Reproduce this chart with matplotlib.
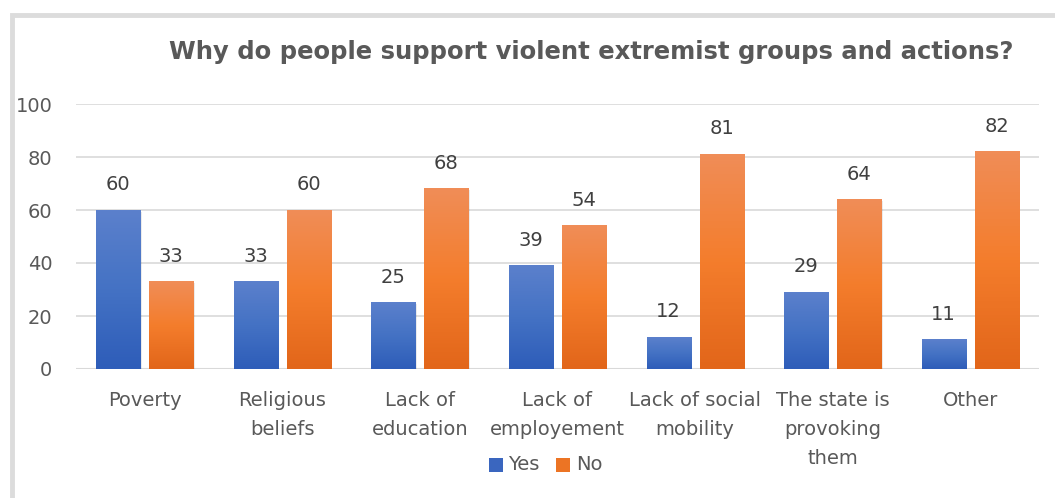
import matplotlib.pyplot as plt
import numpy as np
from matplotlib.colors import LinearSegmentedColormap
from matplotlib.patches import Rectangle

categories = ["Poverty", "Religious\nbeliefs", "Lack of\neducation", "Lack of\nemployement",
              "Lack of social\nmobility", "The state is\nprovoking\nthem", "Other"]
yes_vals = [60, 33, 25, 39, 12, 29, 11]
no_vals = [33, 60, 68, 54, 81, 64, 82]

grey = "#595959"
blue_cm = LinearSegmentedColormap.from_list("b", ["#2E5DB9", "#4472C4", "#5B80CC"])
orange_cm = LinearSegmentedColormap.from_list("o", ["#E2661A", "#F47D2C", "#F08D57"])

fig = plt.figure(figsize=(10.55, 4.98), dpi=100)
fig.patches.append(Rectangle((12 / 1055, -0.1), 1.2, 1 - 15 / 498 + 0.1, transform=fig.transFigure,
                             fill=False, edgecolor="#DCDCDC", linewidth=3.5, zorder=0))

ax = fig.add_axes([76 / 1055, 1 - 369 / 498, (1039 - 76) / 1055, (369 - 104) / 498])

x = np.arange(len(categories))
w = 0.32
off = 0.193
grad = np.linspace(0, 1, 64).reshape(-1, 1)

def gbar(xc, h, cmap):
    ax.imshow(grad, extent=[xc - w / 2, xc + w / 2, 0, h], origin="lower", aspect="auto",
              cmap=cmap, zorder=3)
    # soft shadow
    ax.add_patch(Rectangle((xc - w / 2 + 0.01, -0.6), w, h, facecolor="#000000", alpha=0.08,
                           linewidth=0, zorder=2.5))
    ax.text(xc, h + 6, str(h), ha="center", va="bottom", fontsize=14, color="#404040", zorder=4)

for i in x:
    gbar(i - off, yes_vals[i], blue_cm)
    gbar(i + off, no_vals[i], orange_cm)

ax.set_xlim(-0.5, len(categories) - 0.5)
ax.set_ylim(0, 100)
ax.set_yticks(range(0, 101, 20))
ax.grid(axis="y", color="#D9D9D9", linewidth=1.2, zorder=0)
ax.set_axisbelow(True)
for s in ax.spines.values():
    s.set_visible(False)
ax.axhline(0, color="#D9D9D9", linewidth=1.5, zorder=1)
ax.set_xticks(x)
ax.set_xticklabels(categories, linespacing=1.68)
ax.tick_params(axis="y", length=0, pad=17, labelsize=14, labelcolor=grey)
ax.tick_params(axis="x", length=0, pad=15.5, labelsize=14, labelcolor=grey)

fig.text(0.56, 1 - 52 / 498, "Why do people support violent extremist groups and actions?",
         ha="center", va="center", fontsize=17.5, fontweight="bold", color=grey)

# legend
lx = 489 / 1055
ly = 1 - 465 / 498
fig.patches.append(Rectangle((lx, ly - 7 / 498), 14 / 1055, 14 / 498, transform=fig.transFigure,
                             facecolor="#3A66BF", edgecolor="none"))
fig.text(lx + 19 / 1055, ly, "Yes", va="center", ha="left", fontsize=14, color=grey)
fig.patches.append(Rectangle((lx + 67 / 1055, ly - 7 / 498), 14 / 1055, 14 / 498,
                             transform=fig.transFigure, facecolor="#EC7424", edgecolor="none"))
fig.text(lx + 87 / 1055, ly, "No", va="center", ha="left", fontsize=14, color=grey)

fig.savefig("out.png", dpi=100)
